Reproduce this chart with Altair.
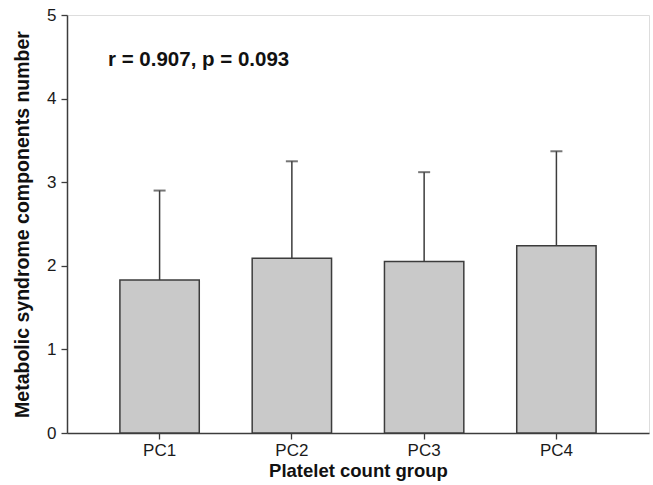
import altair as alt
import pandas as pd

groups = ["PC1", "PC2", "PC3", "PC4"]
means = [1.83, 2.09, 2.05, 2.24]
upper = [2.90, 3.25, 3.12, 3.37]
annotation = "r = 0.907, p = 0.093"

df = pd.DataFrame({"group": groups, "mean": means, "upper": upper})

FONT = "Liberation Sans"
DARK = "#3c3c3c"

x_enc = alt.X(
    "group:N",
    sort=groups,
    scale=alt.Scale(paddingInner=0.4, paddingOuter=0.4),
    axis=alt.Axis(
        title="Platelet count group",
        labelAngle=0,
        labelFontSize=17,
        labelFont=FONT,
        labelColor="#1a1a1a",
        labelPadding=3,
        tickSize=6,
        tickColor=DARK,
        tickWidth=1.3,
        domainColor=DARK,
        domainWidth=1.5,
        titleFont=FONT,
        titleFontSize=18.5,
        titleFontWeight="bold",
        titleColor="#111111",
        titlePadding=3,
    ),
)

y_scale = alt.Scale(domain=[0, 5], nice=False, zero=True)
y_axis = alt.Axis(
    title="Metabolic syndrome components number",
    values=[0, 1, 2, 3, 4, 5],
    format="d",
    grid=False,
    labelFontSize=17,
    labelFont=FONT,
    labelColor="#1a1a1a",
    labelPadding=5,
    tickSize=6,
    tickColor=DARK,
    tickWidth=1.3,
    domainColor=DARK,
    domainWidth=1.5,
    titleFont=FONT,
    titleFontSize=19.5,
    titleFontWeight="bold",
    titleColor="#111111",
    titlePadding=14,
)

bars = alt.Chart(df).mark_bar(
    color="#c9c9c9", stroke=DARK, strokeWidth=1.5
).encode(
    x=x_enc,
    y=alt.Y("mean:Q", scale=y_scale, axis=y_axis),
)

err = alt.Chart(df).mark_rule(color=DARK, strokeWidth=1.5).encode(
    x=alt.X("group:N", sort=groups),
    y=alt.Y("mean:Q", scale=y_scale),
    y2="upper:Q",
)

cap = alt.Chart(df).mark_tick(color=DARK, thickness=2, size=12).encode(
    x=alt.X("group:N", sort=groups),
    y=alt.Y("upper:Q", scale=y_scale),
)

text_df = pd.DataFrame({"label": [annotation], "yv": [4.46]})
txt = alt.Chart(text_df).mark_text(
    align="left", baseline="middle", font=FONT, fontSize=20.5,
    fontWeight="bold", color="#111111"
).encode(
    x=alt.value(41),
    y=alt.Y("yv:Q", scale=y_scale),
    text="label:N",
)

chart = alt.layer(bars, err, cap, txt).properties(
    width=582,
    height=418,
    autosize=alt.AutoSizeParams(type="none"),
    padding={"left": 67, "top": 15, "right": 4, "bottom": 52},
).configure_view(stroke=None).configure(background="white")

chart.save("out.html", embed_options={"renderer": "svg", "actions": False})
